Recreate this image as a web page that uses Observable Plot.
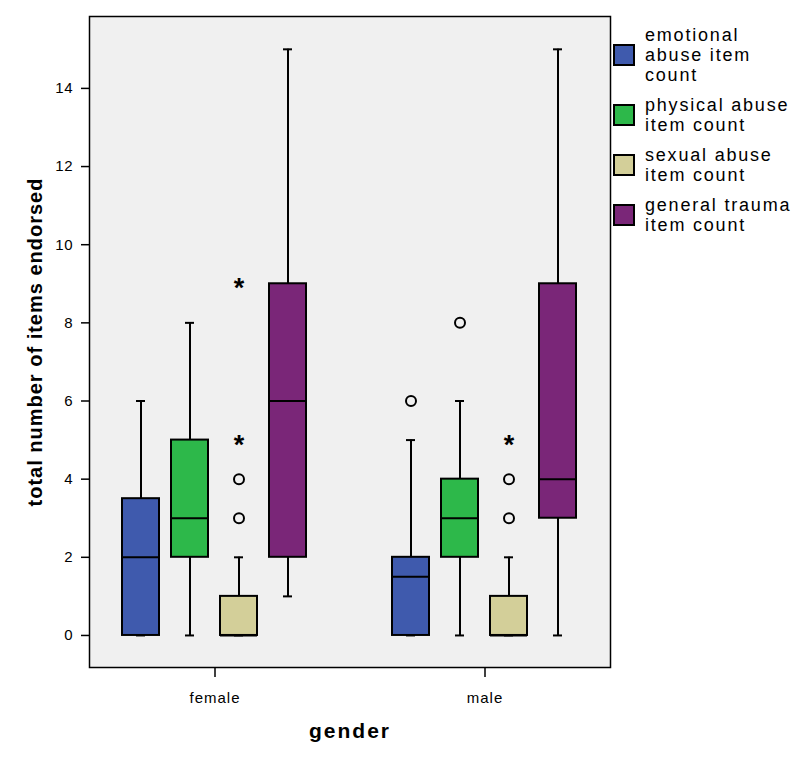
<!DOCTYPE html>
<html>
<head>
<meta charset="utf-8">
<script src="https://cdn.jsdelivr.net/npm/d3@7"></script>
<script src="https://cdn.jsdelivr.net/npm/@observablehq/plot@0.6"></script>
<style>
  html, body { margin: 0; padding: 0; background: #fff; }
  body { font-family: "Liberation Sans", Arial, sans-serif; }
  #wrap { position: relative; width: 800px; height: 759px; }
  #wrap svg { color: #000; }
  g[aria-label="y-axis label"] text {
    font-weight: bold; font-size: 20px; letter-spacing: 1px;
  }
  g[aria-label="fx-axis label"] text {
    font-weight: bold; font-size: 21px; letter-spacing: 2px;
  }
  g[aria-label="y-axis tick label"] text { letter-spacing: 0.8px; }
  g[aria-label="fx-axis tick label"] text { letter-spacing: 1px; }
  #legend { position: absolute; left: 613px; top: 25px; }
  .item { display: flex; align-items: center; margin-bottom: 10px; }
  .sw { width: 22px; height: 22px; box-sizing: border-box; border: 2px solid #000; flex: none; }
  .lab { margin-left: 10px; font-size: 18px; line-height: 20px; letter-spacing: 1.8px; color: #000; }
</style>
</head>
<body>
<div id="wrap"></div>
<script>
// ---- data ----
const genders = ["female", "male"];
const series = ["emotional abuse item count", "physical abuse item count", "sexual abuse item count", "general trauma item count"];
const legendLines = [["emotional", "abuse item", "count"], ["physical abuse", "item count"], ["sexual abuse", "item count"], ["general trauma", "item count"]];
const colors = ["#3f5aad", "#2db84a", "#d3cf99", "#7a2678"];
const yTicks = [0, 2, 4, 6, 8, 10, 12, 14];
// [lower whisker, Q1, median, Q3, upper whisker] per series
const femaleStats = [[0, 0, 2, 3.5, 6], [0, 2, 3, 5, 8], [0, 0, 0, 1, 2], [1, 2, 6, 9, 15]];
const maleStats = [[0, 0, 1.5, 2, 5], [0, 2, 3, 4, 6], [0, 0, 0, 1, 2], [0, 3, 4, 9, 15]];
// outliers (o) and extremes (*)
const femaleOutliers = [[], [], [3, 4], []];
const femaleExtremes = [[], [], [5, 9], []];
const maleOutliers = [[6], [8], [3, 4], []];
const maleExtremes = [[], [], [5], []];

// ---- tables ----
const statsBy = {female: femaleStats, male: maleStats};
const outBy = {female: femaleOutliers, male: maleOutliers};
const extBy = {female: femaleExtremes, male: maleExtremes};
const boxes = [], outs = [], exts = [];
for (const g of genders) {
  series.forEach((s, i) => {
    const [lo, q1, med, q3, hi] = statsBy[g][i];
    boxes.push({gender: g, series: s, lo, q1, med, q3, hi});
    for (const v of outBy[g][i]) outs.push({gender: g, series: s, v});
    for (const v of extBy[g][i]) exts.push({gender: g, series: s, v});
  });
}

const chart = Plot.plot({
  width: 800,
  height: 759,
  marginLeft: 88,
  marginRight: 189,
  marginTop: 16,
  marginBottom: 92,
  style: {fontFamily: "'Liberation Sans', Arial, sans-serif", fontSize: "14px", color: "#000", background: "#fff"},
  fx: {domain: genders, paddingInner: 0.07, paddingOuter: 0, label: null},
  x: {domain: series, paddingInner: 0.24, paddingOuter: 0.64, axis: null},
  y: {domain: [-0.82, 15.84], label: null},
  color: {domain: series, range: colors},
  marks: [
    Plot.frame({facet: "super", fill: "#f0f0f0", stroke: "#000", strokeWidth: 1.5}),
    Plot.axisY({ticks: yTicks, tickSize: 8, tickPadding: 8, fontSize: 15, strokeWidth: 1.5,
      label: "total number of items endorsed", labelAnchor: "center", labelOffset: 62, labelArrow: "none"}),
    Plot.axisFx({anchor: "bottom", tickSize: 10, tickPadding: 15, fontSize: 15, strokeWidth: 1.5,
      label: "gender", labelAnchor: "center", labelOffset: 70, labelArrow: "none"}),
    Plot.ruleX(boxes, {fx: "gender", x: "series", y1: "lo", y2: "q1", stroke: "#000", strokeWidth: 2}),
    Plot.ruleX(boxes, {fx: "gender", x: "series", y1: "q3", y2: "hi", stroke: "#000", strokeWidth: 2}),
    Plot.tickY(boxes, {fx: "gender", x: "series", y: "lo", stroke: "#000", strokeWidth: 2, insetLeft: 14, insetRight: 14}),
    Plot.tickY(boxes, {fx: "gender", x: "series", y: "hi", stroke: "#000", strokeWidth: 2, insetLeft: 14, insetRight: 14}),
    Plot.barY(boxes, {fx: "gender", x: "series", y1: "q1", y2: "q3", fill: "series", stroke: "#000", strokeWidth: 2}),
    Plot.tickY(boxes, {fx: "gender", x: "series", y: "med", stroke: "#000", strokeWidth: 2}),
    Plot.dot(outs, {fx: "gender", x: "series", y: "v", r: 5, stroke: "#000", strokeWidth: 2, fill: "none"}),
    Plot.text(exts, {fx: "gender", x: "series", y: "v", text: () => "*", fontSize: 27, fontWeight: "bold", dy: 5, fill: "#000"})
  ]
});
document.getElementById("wrap").appendChild(chart);

// legend
const legend = document.createElement("div");
legend.id = "legend";
series.forEach((s, i) => {
  const item = document.createElement("div");
  item.className = "item";
  const sw = document.createElement("div");
  sw.className = "sw";
  sw.style.background = colors[i];
  const lab = document.createElement("div");
  lab.className = "lab";
  lab.innerHTML = legendLines[i].join("<br>");
  item.appendChild(sw); item.appendChild(lab);
  legend.appendChild(item);
});
document.getElementById("wrap").appendChild(legend);
</script>
</body>
</html>
